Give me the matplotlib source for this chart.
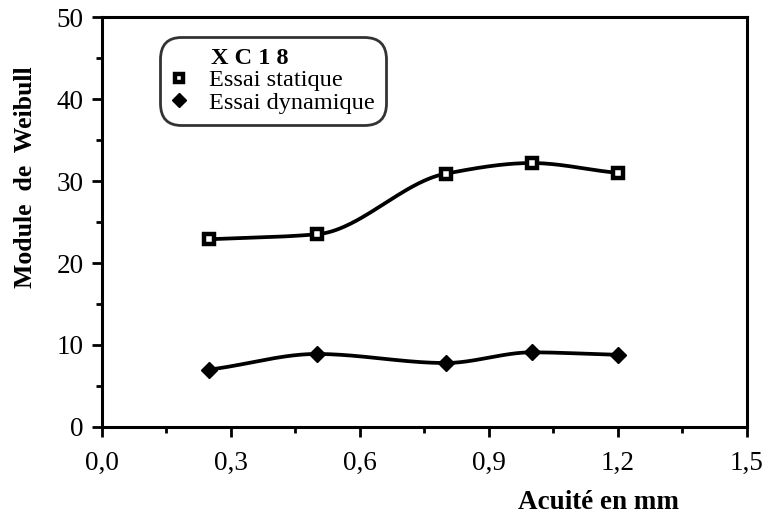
import numpy as np
import matplotlib
matplotlib.use("Agg")
import matplotlib.pyplot as plt

plt.rcParams['font.family'] = ['Liberation Serif', 'DejaVu Serif']

# valeurs
acuite = [0.25, 0.5, 0.8, 1.0, 1.2]
module_statique = [22.9, 23.5, 30.9, 32.2, 31.0]
module_dynamique = [7.0, 8.9, 7.8, 9.1, 8.8]

xticks = [0.0, 0.3, 0.6, 0.9, 1.2, 1.5]
xtick_labels = ['0,0', '0,3', '0,6', '0,9', '1,2', '1,5']
yticks = [0, 10, 20, 30, 40, 50]


def lisse(x, y, n=200):
    # interpolation PCHIP (Fritsch-Carlson), pas de depassement entre points
    x = np.asarray(x, float)
    y = np.asarray(y, float)
    h = np.diff(x)
    d = np.diff(y) / h
    m = np.zeros_like(y)
    for i in range(1, len(x) - 1):
        if d[i - 1] * d[i] > 0:
            w1 = 2 * h[i] + h[i - 1]
            w2 = h[i] + 2 * h[i - 1]
            m[i] = (w1 + w2) / (w1 / d[i - 1] + w2 / d[i])
    m[0] = d[0] * 0.8
    m[-1] = d[-1] * 0.8
    xs = np.linspace(x[0], x[-1], n)
    idx = np.clip(np.searchsorted(x, xs) - 1, 0, len(x) - 2)
    t = (xs - x[idx]) / h[idx]
    h00 = 2 * t**3 - 3 * t**2 + 1
    h10 = t**3 - 2 * t**2 + t
    h01 = -2 * t**3 + 3 * t**2
    h11 = t**3 - t**2
    ys = h00 * y[idx] + h10 * h[idx] * m[idx] + h01 * y[idx + 1] + h11 * h[idx] * m[idx + 1]
    return xs, ys


fig = plt.figure(figsize=(7.69, 5.2), dpi=100)
ax = fig.add_axes([0.132, 0.179, 0.839, 0.788])

xs, ys = lisse(acuite, module_statique)
ax.plot(xs, ys, color='black', lw=2.7, zorder=2)
xs, ys = lisse(acuite, module_dynamique)
ax.plot(xs, ys, color='black', lw=2.7, zorder=2)

ax.plot(acuite, module_statique, ls='none', marker='s', ms=7, mew=3.2,
        mfc='white', mec='black', zorder=3, label='Essai statique')
ax.plot(acuite, module_dynamique, ls='none', marker='D', ms=8.5,
        color='black', zorder=3, label='Essai dynamique')

ax.set_xlim(0, 1.5)
ax.set_ylim(0, 50)
ax.set_xticks(xticks)
ax.set_xticklabels(xtick_labels)
ax.set_xticks(np.arange(0.15, 1.5, 0.3), minor=True)
ax.set_yticks(yticks)
ax.set_yticks(np.arange(5, 50, 10), minor=True)

for s in ax.spines.values():
    s.set_linewidth(2.2)
ax.tick_params(which='major', direction='out', length=7, width=2, labelsize=19.5)
ax.tick_params(axis='x', which='major', pad=10)
ax.tick_params(axis='y', which='major', pad=6)
ax.tick_params(which='minor', direction='out', length=4.5, width=2)

ax.set_xlabel('Acuité en mm', fontsize=19.5, fontweight='bold')
ax.xaxis.set_label_coords(0.77, -0.155)
ax.set_ylabel('Module  de  Weibull', fontsize=18.5, fontweight='bold')
ax.yaxis.set_label_coords(-0.1, 0.61)

leg = ax.legend(loc='upper left', bbox_to_anchor=(0.09, 0.952), title='X C 1 8',
                title_fontproperties={'weight': 'bold', 'size': 17.5},
                fontsize=17.5, frameon=True, fancybox=True, handlelength=0.7,
                handletextpad=0.9, labelspacing=0.02, borderpad=0.45,
                borderaxespad=0, markerscale=0.85)
frame = leg.get_frame()
frame.set_edgecolor('black')
frame.set_linewidth(2)
frame.set_boxstyle('round,pad=0,rounding_size=0.9')
leg._legend_box.align = 'left'
leg.get_title().set_position((40, 0))

fig.savefig('out.png', dpi=100)
